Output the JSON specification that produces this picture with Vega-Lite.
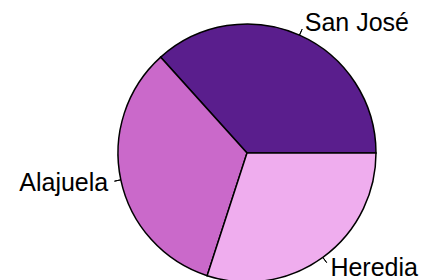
{
  "$schema": "https://vega.github.io/schema/vega-lite/v6.json",
  "autosize": {"type": "none"},
  "width": 362,
  "height": 254,
  "padding": {"left": 66, "top": 26, "right": 0, "bottom": 0},
  "background": "white",
  "config": {"view": {"stroke": null}},
  "data": {
    "values": [
      {"region": "San José", "value": 11},
      {"region": "Alajuela", "value": 10},
      {"region": "Heredia", "value": 9}
    ]
  },
  "transform": [
    {"joinaggregate": [{"op": "sum", "field": "value", "as": "total"}]},
    {"window": [{"op": "sum", "field": "value", "as": "cum"}], "frame": [null, 0]},
    {"calculate": "(datum.cum - datum.value) / datum.total", "as": "start"},
    {"calculate": "datum.cum / datum.total", "as": "end"},
    {"calculate": "(datum.cum - datum.value / 2) / datum.total", "as": "mid"}
  ],
  "layer": [
    {
      "mark": {"type": "arc", "outerRadius": 129, "stroke": "black", "strokeWidth": 1.5},
      "encoding": {
        "theta": {"field": "start", "type": "quantitative", "stack": null, "scale": {"domain": [0, 1], "range": [1.5708, -4.7124]}},
        "theta2": {"field": "end"},
        "color": {
          "field": "region",
          "type": "nominal",
          "legend": null,
          "scale": {"domain": ["San José", "Alajuela", "Heredia"], "range": ["#5a1e8d", "#ca69ca", "#efadee"]}
        }
      }
    },
    {
      "mark": {"type": "arc", "innerRadius": 129, "outerRadius": 135.5, "stroke": "black", "strokeWidth": 1, "fill": null},
      "encoding": {
        "theta": {"field": "mid", "type": "quantitative", "stack": null},
        "theta2": {"field": "mid"}
      }
    },
    {
      "transform": [{"filter": "datum.mid <= 0.25 || datum.mid >= 0.75"}],
      "mark": {"type": "text", "radius": 141.9, "align": "left", "baseline": "middle", "font": "Liberation Sans", "fontSize": 25, "color": "black"},
      "encoding": {
        "theta": {"field": "mid", "type": "quantitative", "stack": null},
        "text": {"field": "region"}
      }
    },
    {
      "transform": [{"filter": "datum.mid > 0.25 && datum.mid < 0.75"}],
      "mark": {"type": "text", "radius": 141.9, "align": "right", "baseline": "middle", "font": "Liberation Sans", "fontSize": 25, "color": "black"},
      "encoding": {
        "theta": {"field": "mid", "type": "quantitative", "stack": null},
        "text": {"field": "region"}
      }
    }
  ]
}
